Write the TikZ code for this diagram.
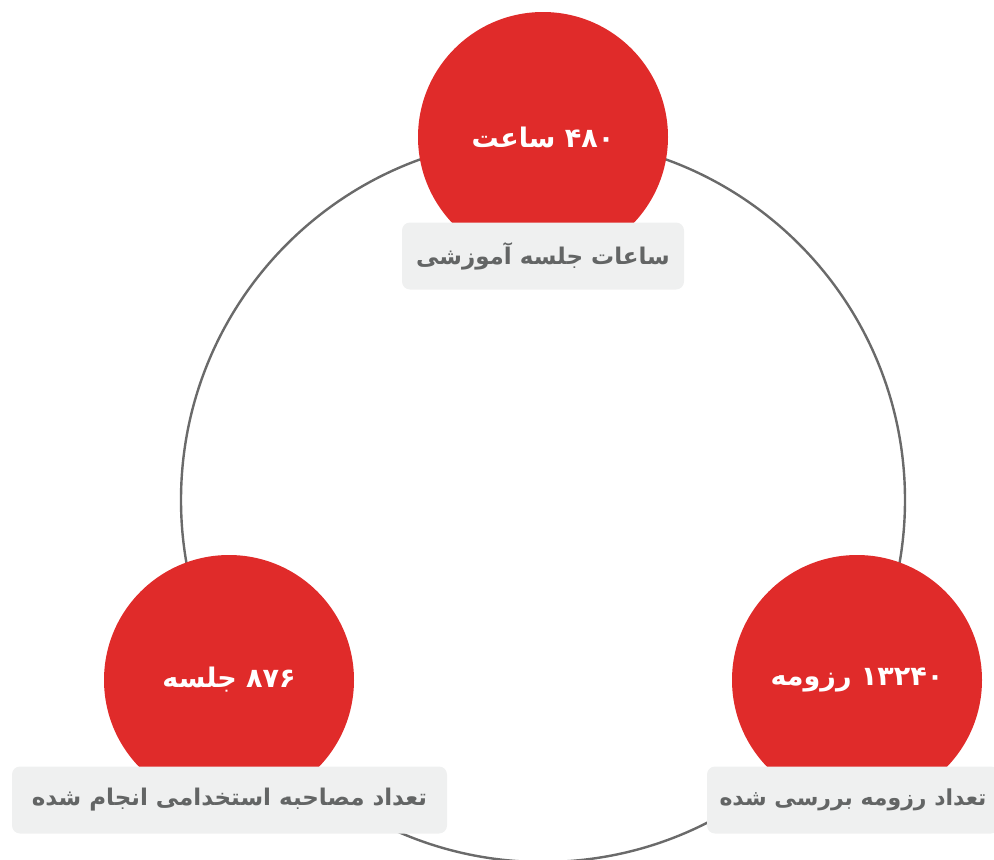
\documentclass[tikz,border=0pt]{standalone}
\usepackage{fontspec}
\newfontfamily\arabicfont[Script=Arabic]{DejaVu Sans}
\TeXXeTstate=1
\definecolor{statred}{HTML}{E02B2A}
\definecolor{capfill}{HTML}{EFF0F0}
\definecolor{captext}{HTML}{636565}
\definecolor{ringgray}{HTML}{6A6A6A}

\begin{document}
\begin{tikzpicture}[x=1pt,y=-1pt,
        ring/.style={draw=ringgray,line width=2.4pt},
        stat/.style={circle,fill=statred,minimum size=250pt,inner sep=0pt,text=white,
            font=\arabicfont\bfseries\fontsize{27}{32}\selectfont},
        caption/.style={fill=capfill,rounded corners=8pt,minimum height=67pt,inner sep=0pt,
            text=captext,font=\arabicfont\bfseries\fontsize{23}{28}\selectfont}]
        \useasboundingbox (0,0) rectangle (994,860);
        \coordinate (center) at (543,500);
        \draw[ring] (center) circle[radius=362pt];
        \node[stat] (hours) at (543,137) {\beginR ۴۸۰ ساعت\endR};
        \node[stat] (sessions) at (229,680) {\beginR ۸۷۶ جلسه\endR};
        \node[stat] (resumes) at (857,680) {\beginR ۱۳۲۴۰ رزومه\endR};
        \node[caption,minimum width=282pt] (hours-cap) at (543,256) {\beginR ساعات جلسه آموزشی\endR};
        \node[caption,minimum width=435pt] (sessions-cap) at (229.5,800) {\beginR تعداد مصاحبه استخدامی انجام شده\endR};
        \node[caption,minimum width=292pt,font=\arabicfont\bfseries\fontsize{22}{27}\selectfont] (resumes-cap) at (853,800) {\beginR تعداد رزومه بررسی شده\endR};
    \end{tikzpicture}
\end{document}
